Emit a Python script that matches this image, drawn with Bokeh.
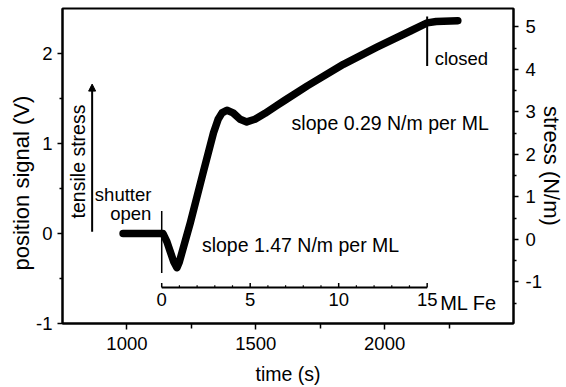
from bokeh.plotting import figure
from bokeh.models import (Range1d, LinearAxis, FixedTicker, Arrow, NormalHead,
                          CustomJSTickFormatter, Title)
from bokeh.core.properties import value
from bokeh.embed import file_html
from bokeh.resources import INLINE

# ---- data ----
time_s = [985, 1140, 1155, 1168, 1181, 1194, 1203, 1246, 1297, 1336, 1354, 1369, 1388,
          1412, 1439, 1465, 1497, 1536, 1581, 1610, 1700, 1840, 1970, 2100, 2165, 2200, 2284]
signal_v = [0.0, 0.0, -0.09, -0.2, -0.31, -0.38, -0.32, 0.12, 0.69, 1.12, 1.27, 1.34, 1.37,
            1.34, 1.27, 1.24, 1.27, 1.335, 1.42, 1.475, 1.64, 1.88, 2.07, 2.25, 2.34, 2.355, 2.365]

x_major = [1000, 1500, 2000]
x_minor = [1250, 1750, 2250]
v_major = [-1, 0, 1, 2]
v_minor = [-0.5, 0.5, 1.5]
s_major = [-1, 0, 1, 2, 3, 4, 5]
s_minor = [-1.5, -0.5, 0.5, 1.5, 2.5, 3.5, 4.5]

shutter_open_t = 1135
shutter_close_t = 2165
ml_total = 15
ml_major = [0, 5, 10, 15]
ml_minor = [1, 2, 3, 4, 6, 7, 8, 9, 11, 12, 13, 14]

FONT = "Liberation Sans"

def ml_to_t(ml):
    return shutter_open_t + ml * (shutter_close_t - shutter_open_t) / ml_total

p = figure(width=566, height=387, x_range=Range1d(750, 2500), y_range=Range1d(-1, 2.5),
           output_backend="svg", toolbar_location=None,
           min_border_left=62, min_border_right=52, min_border_top=8, min_border_bottom=64)
p.grid.visible = False
p.outline_line_color = "black"
p.outline_line_width = 2
p.extra_y_ranges = {"stress": Range1d(-1.98, 5.43)}

fmt = CustomJSTickFormatter(code="return String(tick);")

def style_axis(ax, label, size):
    ax.formatter = fmt
    ax.axis_line_width = 2
    ax.axis_line_color = "black"
    ax.major_tick_line_width = 1.5
    ax.minor_tick_line_width = 1.5
    ax.major_tick_in = 0
    ax.minor_tick_in = 0
    ax.major_tick_out = 5
    ax.minor_tick_out = 3
    ax.major_label_text_font = FONT
    ax.major_label_text_font_size = "18.5px"
    ax.major_label_text_color = "black"
    ax.axis_label = label
    ax.axis_label_text_font = FONT
    ax.axis_label_text_font_size = size
    ax.axis_label_text_font_style = "normal"
    ax.axis_label_text_color = "black"

xa = p.xaxis[0]
xa.ticker = FixedTicker(ticks=x_major, minor_ticks=x_minor)
style_axis(xa, "time (s)", "19.5px")
xa.major_tick_out = 6
xa.minor_tick_out = 5
xa.major_label_standoff = 7
xa.axis_label_standoff = 10

ya = p.yaxis[0]
ya.ticker = FixedTicker(ticks=v_major, minor_ticks=v_minor)
style_axis(ya, None, "22px")
ya.major_label_standoff = 5

# left axis title, placed lower along the axis as in the reference
p.add_layout(Title(text="position signal (V)", align="left", offset=53,
                   text_font=FONT, text_font_size="22px", text_font_style="normal",
                   text_color="black", standoff=0), "left")

ra = LinearAxis(y_range_name="stress")
ra.ticker = FixedTicker(ticks=s_major, minor_ticks=s_minor)
style_axis(ra, "stress (N/m)", "22px")
ra.major_label_standoff = 7
ra.axis_label_standoff = -6
p.add_layout(ra, "right")

# main curve
p.line(time_s, signal_v, line_width=7.5, line_color="black",
       line_cap="round", line_join="round")

# shutter markers
p.segment(x0=[shutter_open_t], y0=[0.25], x1=[shutter_open_t], y1=[-0.44],
          line_color="black", line_width=1.5)
p.segment(x0=[shutter_close_t], y0=[2.41], x1=[shutter_close_t], y1=[1.86],
          line_color="black", line_width=2)

# inner ML Fe axis
ml_y = -0.6
p.segment(x0=[ml_to_t(0)], y0=[ml_y], x1=[ml_to_t(ml_total)], y1=[ml_y],
          line_color="black", line_width=2)
p.segment(x0=[ml_to_t(m) for m in ml_major], y0=[ml_y] * len(ml_major),
          x1=[ml_to_t(m) for m in ml_major], y1=[ml_y + 0.05] * len(ml_major),
          line_color="black", line_width=1.5)
p.segment(x0=[ml_to_t(m) for m in ml_minor], y0=[ml_y] * len(ml_minor),
          x1=[ml_to_t(m) for m in ml_minor], y1=[ml_y + 0.025] * len(ml_minor),
          line_color="black", line_width=1.2)
p.text(x=[ml_to_t(m) for m in ml_major], y=[ml_y] * len(ml_major),
       text=[str(m) for m in ml_major], text_align="center", text_baseline="top",
       y_offset=5, text_font=value(FONT), text_font_size="18.5px", text_color="black")
p.text(x=[ml_to_t(ml_total)], y=[ml_y], text=["ML Fe"], text_align="left",
       text_baseline="top", x_offset=13, y_offset=4,
       text_font=value(FONT), text_font_size="20px", text_color="black")

# tensile stress arrow
p.add_layout(Arrow(end=NormalHead(size=7, fill_color="black", line_color="black"),
                   x_start=865, y_start=0.02, x_end=865, y_end=1.66,
                   line_width=2, line_color="black"))
p.text(x=[812], y=[0.8], text=["tensile stress"], angle=1.5707963,
       text_align="center", text_baseline="middle",
       text_font=value(FONT), text_font_size="19.5px", text_color="black")

# annotations
p.text(x=[1095, 1095], y=[0.43, 0.22], text=["shutter", "open"], text_align="right",
       text_baseline="middle", text_font=value(FONT), text_font_size="18.5px",
       text_color="black")
p.text(x=[1291], y=[-0.125], text=["slope 1.47 N/m per ML"], text_align="left",
       text_baseline="middle", text_font=value(FONT), text_font_size="19.5px",
       text_color="black")
p.text(x=[1639], y=[1.23], text=["slope 0.29 N/m per ML"], text_align="left",
       text_baseline="middle", text_font=value(FONT), text_font_size="19.5px",
       text_color="black")
p.text(x=[2194], y=[1.94], text=["closed"], text_align="left",
       text_baseline="middle", text_font=value(FONT), text_font_size="18.5px",
       text_color="black")

open("out.html", "w").write(file_html(p, INLINE))
